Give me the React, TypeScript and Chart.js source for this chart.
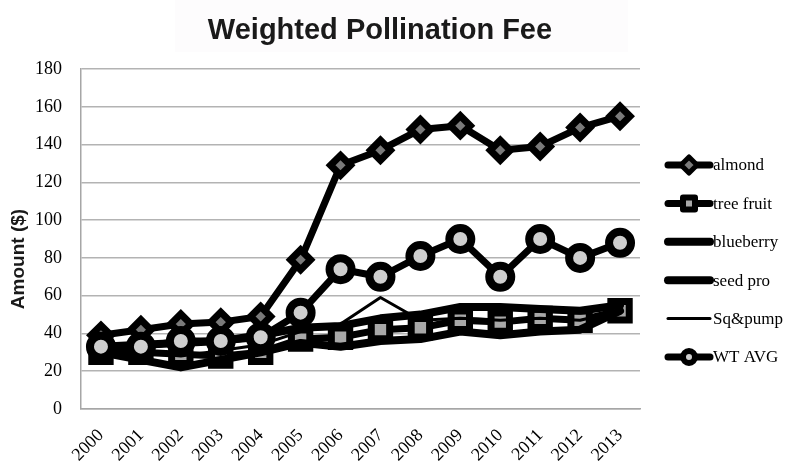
import React, { useEffect, useRef } from "react";
import { Chart, registerables } from "chart.js";

Chart.register(...registerables);

const years = ["2000","2001","2002","2003","2004","2005","2006","2007","2008","2009","2010","2011","2012","2013"];
const almond = [39, 42, 45, 46, 49, 79, 129, 137, 148, 150, 137, 139, 149, 155];
const treeFruit = [30, 30, 29, 28, 30, 37, 38, 42, 43, 47, 46, 48, 47, 52];
const blueberry = [33, 34, 35, 36, 39, 43, 44, 48, 50, 54, 54, 53, 52, 55];
const seedPro = [30, 26, 22, 26, 30, 35, 33, 36, 37, 41, 39, 41, 42, 52];
const sqPump = [32, 30, 28, 31, 34, 41, 45, 59, 47, 48, 47, 48, 47, 52];
const wtAvg = [33, 33, 36, 36, 38, 51, 74, 70, 81, 90, 70, 90, 80, 88];
const yTicks = [0, 20, 40, 60, 80, 100, 120, 140, 160, 180];

const TITLE = "Weighted Pollination Fee";
const Y_TITLE = "Amount ($)";
const SERIF = "'Liberation Serif', 'DejaVu Serif', serif";
const SANS = "'Liberation Sans', Arial, sans-serif";

type Mk = { style: string; r: number; bw: number; fill: string };

const overlay = {
  id: "overlay",
  beforeDraw(chart: any) {
    const ctx = chart.ctx;
    ctx.save();
    ctx.fillStyle = "#fdfcfd";
    ctx.fillRect(175, 0, 453, 52);
    ctx.restore();
  },
  afterDraw(chart: any) {
    const ctx = chart.ctx;
    const area = chart.chartArea;
    ctx.save();
    ctx.fillStyle = "#1a1a1a";
    ctx.font = `bold 29px ${SANS}`;
    ctx.textAlign = "center";
    ctx.textBaseline = "alphabetic";
    ctx.fillText(TITLE, 380, 39);
    ctx.save();
    ctx.translate(19, area.top + (area.bottom - area.top) / 2 + 20);
    ctx.rotate(-Math.PI / 2);
    ctx.font = `bold 19px ${SANS}`;
    ctx.textBaseline = "middle";
    ctx.fillText(Y_TITLE, 0, 0);
    ctx.restore();
    const x0 = area.right + 28;
    const x1 = x0 + 42;
    const cx = (x0 + x1) / 2;
    chart.data.datasets.forEach((ds: any, i: number) => {
      const y = 165 + i * 38.4;
      ctx.strokeStyle = "#000";
      ctx.lineCap = "round";
      ctx.lineWidth = ds.legendWidth;
      ctx.beginPath();
      ctx.moveTo(x0, y);
      ctx.lineTo(x1, y);
      ctx.stroke();
      const mk: Mk | null = ds.legendMarker;
      if (mk) {
        ctx.fillStyle = mk.fill;
        ctx.lineWidth = mk.bw;
        ctx.lineJoin = "round";
        ctx.beginPath();
        if (mk.style === "circle") {
          ctx.arc(cx, y, mk.r, 0, Math.PI * 2);
        } else if (mk.style === "rect") {
          ctx.rect(cx - mk.r, y - mk.r, mk.r * 2, mk.r * 2);
        } else {
          ctx.moveTo(cx, y - mk.r);
          ctx.lineTo(cx + mk.r, y);
          ctx.lineTo(cx, y + mk.r);
          ctx.lineTo(cx - mk.r, y);
          ctx.closePath();
        }
        ctx.fill();
        ctx.stroke();
      }
      ctx.fillStyle = "#000";
      ctx.font = `17px ${SERIF}`;
      ctx.textAlign = "left";
      ctx.textBaseline = "middle";
      ctx.fillText(ds.label, x1 + 3, y + 1);
    });
    ctx.restore();
  },
};

export default function App() {
  const ref = useRef<HTMLCanvasElement | null>(null);
  useEffect(() => {
    if (!ref.current) return;
    const common = {
      borderColor: "#000",
      pointBorderColor: "#000",
      borderJoinStyle: "round" as const,
      borderCapStyle: "round" as const,
      tension: 0,
      fill: false,
    };
    const chart = new Chart(ref.current, {
      type: "line",
      data: {
        labels: years,
        datasets: [
          { ...common, label: "almond", data: almond, borderWidth: 7, pointStyle: "rectRot", pointRadius: 10, pointBorderWidth: 7, pointBackgroundColor: "#7a7a7a", order: 6, legendWidth: 7, legendMarker: { style: "diamond", r: 8, bw: 5, fill: "#7a7a7a" } } as any,
          { ...common, label: "tree fruit", data: treeFruit, borderWidth: 7, pointStyle: "rect", pointRadius: 13, pointBorderWidth: 7, pointBackgroundColor: "#a8a8a8", order: 5, legendWidth: 7, legendMarker: { style: "rect", r: 6, bw: 6, fill: "#a8a8a8" } } as any,
          { ...common, label: "blueberry", data: blueberry, borderWidth: 8, pointRadius: 0, order: 4, legendWidth: 8, legendMarker: null } as any,
          { ...common, label: "seed pro", data: seedPro, borderWidth: 8, pointRadius: 0, order: 3, legendWidth: 8, legendMarker: null } as any,
          { ...common, label: "Sq&pump", data: sqPump, borderWidth: 3, pointRadius: 0, order: 2, legendWidth: 3, legendMarker: null } as any,
          { ...common, label: "WT AVG", data: wtAvg, borderWidth: 7, pointStyle: "circle", pointRadius: 11, pointBorderWidth: 8, pointBackgroundColor: "#cfcfcf", order: 1, legendWidth: 7, legendMarker: { style: "circle", r: 6, bw: 6, fill: "#cfcfcf" } } as any,
        ],
      },
      options: {
        responsive: false,
        animation: false,
        events: [],
        layout: { padding: { top: 69, right: 158, left: 0, bottom: 0 } },
        plugins: { legend: { display: false }, title: { display: false }, tooltip: { enabled: false } },
        scales: {
          x: {
            offset: true,
            grid: { display: false, drawTicks: false },
            border: { display: true, color: "#a6a6a6", width: 1.5 },
            ticks: { color: "#000", font: { family: SERIF, size: 18 }, maxRotation: 45, minRotation: 45, padding: 16, autoSkip: false },
            afterFit: (s: any) => { s.height = 58; },
          },
          y: {
            min: 0,
            max: 180,
            afterBuildTicks: (s: any) => { s.ticks = yTicks.map((v) => ({ value: v })); },
            grid: { color: "#b3b3b3", lineWidth: 1.5, drawTicks: false },
            border: { display: true, color: "#a6a6a6", width: 1.5 },
            ticks: { color: "#000", font: { family: SERIF, size: 18 }, padding: 19 },
            afterFit: (s: any) => { s.width = 81; },
          },
        },
      },
      plugins: [overlay],
    });
    return () => chart.destroy();
  }, []);
  return (
    <div style={{ position: "fixed", left: 0, top: 0, width: 798, height: 467, background: "#fff" }}>
      <canvas ref={ref} width={798} height={467} style={{ display: "block" }} />
    </div>
  );
}
